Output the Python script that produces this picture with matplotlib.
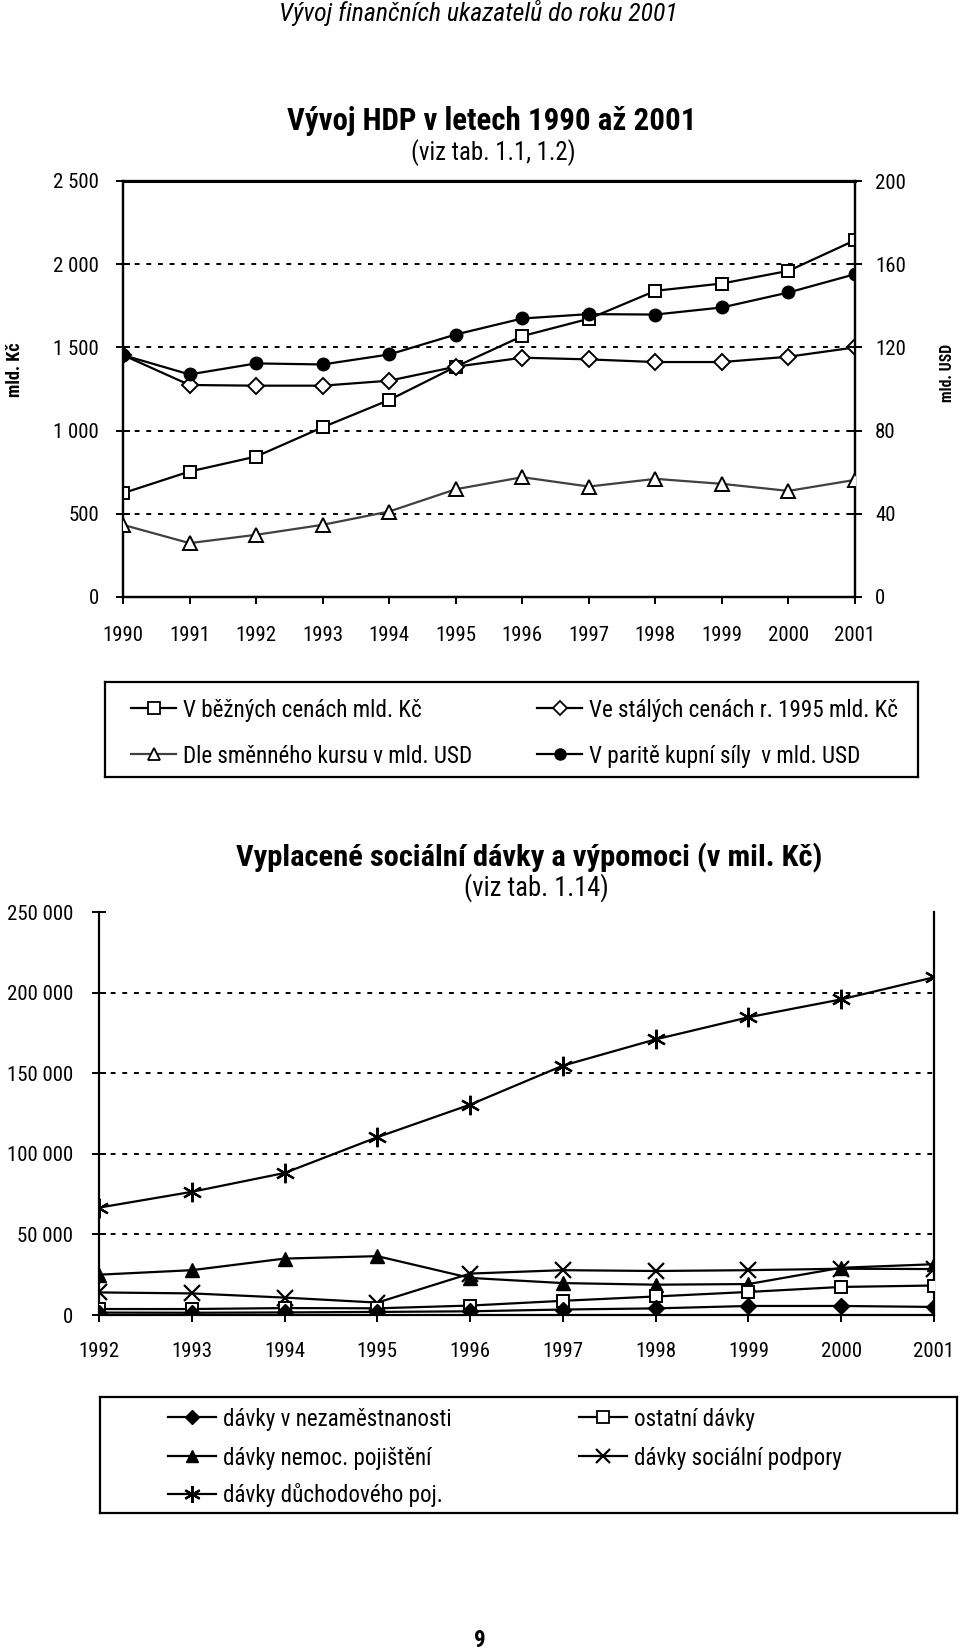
import matplotlib
matplotlib.use("Agg")
import matplotlib.pyplot as plt
from matplotlib.lines import Line2D
from matplotlib import font_manager as fm

# ---------------- data ----------------
years_hdp = [1990, 1991, 1992, 1993, 1994, 1995, 1996, 1997, 1998, 1999, 2000, 2001]
hdp_bezne_kc = [624, 754, 844, 1020, 1184, 1384, 1568, 1672, 1840, 1884, 1960, 2144]
hdp_stale_kc = [1454, 1274, 1270, 1270, 1300, 1384, 1438, 1428, 1412, 1412, 1444, 1500]
hdp_kurz_usd = [34.7, 25.9, 29.9, 34.7, 41.1, 51.8, 57.6, 53.1, 56.8, 54.4, 51.0, 56.3]
hdp_parita_usd = [116.3, 107.0, 112.3, 111.8, 116.6, 126.2, 133.9, 136.0, 135.8, 139.2, 146.4, 155.2]
kc_ticks = [0, 500, 1000, 1500, 2000, 2500]
kc_ticklabels = ['0', '500', '1 000', '1 500', '2 000', '2 500']
usd_ticks = [0, 40, 80, 120, 160, 200]

years_soc = [1992, 1993, 1994, 1995, 1996, 1997, 1998, 1999, 2000, 2001]
davky_nezam = [1500, 1400, 1600, 1900, 2300, 3400, 4100, 5600, 5600, 5000]
davky_nemoc = [25000, 27800, 35000, 36500, 23000, 19800, 18800, 19200, 29300, 31500]
davky_duchod = [66600, 76400, 88100, 110300, 130500, 154700, 171000, 184700, 195800, 209500]
davky_ostatni = [3700, 3700, 4300, 4150, 5850, 8800, 11500, 14300, 17400, 18300]
davky_socpod = [14000, 13400, 10800, 7700, 25700, 27800, 27300, 27800, 28700, 28500]
soc_ticks = [0, 50000, 100000, 150000, 200000, 250000]
soc_ticklabels = ['0', '50 000', '100 000', '150 000', '200 000', '250 000']

labels_hdp = ['V běžných cenách mld. Kč', 'Dle směnného kursu v mld. USD',
              'Ve stálých cenách r. 1995 mld. Kč', 'V paritě kupní síly  v mld. USD']
labels_soc = ['dávky v nezaměstnanosti', 'dávky nemoc. pojištění', 'dávky důchodového poj.',
              'ostatní dávky', 'dávky sociální podpory']

# ---------------- font ----------------
fonts = fm.fontManager.ttflist
prefs = ['Liberation Sans Narrow', 'Arial Narrow', 'Nimbus Sans Narrow', 'Roboto Condensed',
         'Archivo Narrow', 'PT Sans Narrow', 'IBM Plex Sans Condensed', 'Fira Sans Condensed',
         'Liberation Sans']


def has_bold_italic(name):
    fs_ = [f for f in fonts if f.name == name]
    bold = any((f.weight if isinstance(f.weight, int) else 400) >= 700 or f.weight == 'bold' for f in fs_)
    ital = any(f.style == 'italic' for f in fs_)
    return bool(fs_) and bold and ital


FONT = next((p for p in prefs if has_bold_italic(p)), 'Liberation Sans')
plt.rcParams['font.family'] = [FONT, 'DejaVu Sans']

W, H = 960, 1651
fig = plt.figure(figsize=(W / 100, H / 100), dpi=100)
renderer = fig.canvas.get_renderer()
PX2PT = 72 / 100


def fx(px):
    return px / W


def fy(py):
    return 1 - py / H


def size_for(s, target_w, **kw):
    t = fig.text(0, 0, s, fontsize=10, **kw)
    w = t.get_window_extent(renderer).width
    t.remove()
    return 10 * target_w / w


def fit_text(x, y, s, target_w, rot=False, scale=1.0, **kw):
    fs = size_for(s, target_w, **kw) * scale
    return fig.text(fx(x), fy(y), s, fontsize=fs, ha='center', va='center',
                    rotation=90 if rot else 0, **kw)


FS = size_for('1990', 41)           # tick label size
LFS = size_for(labels_hdp[0], 238)  # legend text size
grid_kw = dict(color='black', lw=1.4, ls=(0, (2.5, 3.5)))
line_kw = dict(color='black', lw=1.6)

# ---------------- header ----------------
fit_text(478, 13, 'Vývoj finančních ukazatelů do roku 2001', 397, style='italic')

# ---------------- top chart ----------------
ax1 = fig.add_axes([fx(123), fy(597), fx(855) - fx(123), fy(181) - fy(597)])
ax2 = ax1.twinx()
ax1.set_xlim(1990, 2001)
ax1.set_ylim(0, 2500)
ax2.set_ylim(0, 200)
for t in kc_ticks[1:-1]:
    ax1.axhline(t, **grid_kw, zorder=1)

ax1.plot(years_hdp, hdp_bezne_kc, marker='s', ms=9, mfc='white', mec='black', mew=1.4, **line_kw, zorder=4)
ax1.plot(years_hdp, hdp_stale_kc, marker='D', ms=8, mfc='white', mec='black', mew=1.4, **line_kw, zorder=4)
ax2.plot(years_hdp, hdp_kurz_usd, marker='^', ms=10, mfc='white', mec='black', mew=1.4,
         color='#404040', lw=1.6, zorder=4)
ax2.plot(years_hdp, hdp_parita_usd, marker='o', ms=9, mfc='black', mec='black', **line_kw, zorder=5)

ax1.set_yticks(kc_ticks)
ax1.set_yticklabels(kc_ticklabels)
ax2.set_yticks(usd_ticks)
ax1.set_xticks(years_hdp)
ax1.set_xticklabels([str(y) for y in years_hdp])
ax1.tick_params(axis='y', direction='inout', length=14 * PX2PT, width=1.4, pad=10, labelsize=FS)
ax2.tick_params(axis='y', direction='inout', length=14 * PX2PT, width=1.4, pad=10, labelsize=FS)
ax1.tick_params(axis='x', direction='out', length=7 * PX2PT, width=1.4, pad=12, labelsize=FS)
for ax in (ax1, ax2):
    for s in ax.spines.values():
        s.set_linewidth(1.6)
    ax.patch.set_visible(False)
ax1.spines['top'].set_linewidth(2.2)

fit_text(15, 370, 'mld. Kč', 55, rot=True, fontweight='bold')
fit_text(947, 373, 'mld. USD', 58, rot=True, fontweight='bold')

fit_text(491.5, 121, 'Vývoj HDP v letech 1990 až 2001', 408, fontweight='bold')
fit_text(493.5, 153, '(viz tab. 1.1, 1.2)', 185, scale=0.88)

# top legend box
lax = fig.add_axes([fx(105), fy(777), fx(918) - fx(105), fy(682) - fy(777)])
lax.set_xticks([]); lax.set_yticks([])
for s in lax.spines.values():
    s.set_linewidth(1.6)

HL_PX = 45
leg_kw = dict(frameon=False, fontsize=LFS, handlelength=HL_PX / (LFS / PX2PT), handletextpad=0.3,
              borderpad=0, borderaxespad=0, loc='center left', bbox_transform=fig.transFigure)
h_sq = Line2D([], [], marker='s', ms=8, mfc='white', mec='black', mew=1.3, **line_kw)
h_tr = Line2D([], [], marker='^', ms=8, mfc='white', mec='black', mew=1.3, color='#404040', lw=1.6)
h_di = Line2D([], [], marker='D', ms=7, mfc='white', mec='black', mew=1.3, **line_kw)
h_ci = Line2D([], [], marker='o', ms=8, mfc='black', mec='black', **line_kw)
for h, lab, x, y in [(h_sq, labels_hdp[0], 131, 710), (h_tr, labels_hdp[1], 131, 756),
                     (h_di, labels_hdp[2], 537, 710), (h_ci, labels_hdp[3], 537, 756)]:
    fig.legend([h], [lab], bbox_to_anchor=(fx(x), fy(y)), **leg_kw)

# ---------------- bottom chart ----------------
bx = fig.add_axes([fx(99), fy(1315), fx(934) - fx(99), fy(912) - fy(1315)])
bx.set_xlim(1992, 2001)
bx.set_ylim(0, 250000)
for t in soc_ticks[1:-1]:
    bx.axhline(t, **grid_kw, zorder=1)
bx.plot(years_soc, davky_duchod, marker=(6, 2, 0), ms=14, mew=1.6, mec='black', **line_kw, zorder=4)
bx.plot(years_soc, davky_nemoc, marker='^', ms=10, mfc='black', mec='black', **line_kw, zorder=4)
bx.plot(years_soc, davky_socpod, marker='x', ms=11, mew=1.6, mec='black', **line_kw, zorder=4)
bx.plot(years_soc, davky_ostatni, marker='s', ms=9, mfc='white', mec='black', mew=1.4, **line_kw, zorder=4)
bx.plot(years_soc, davky_nezam, marker='D', ms=8, mfc='black', mec='black', **line_kw, zorder=5)
bx.set_yticks(soc_ticks)
bx.set_yticklabels(soc_ticklabels)
bx.set_xticks(years_soc)
bx.set_xticklabels([str(y) for y in years_soc])
bx.tick_params(axis='y', direction='inout', length=14 * PX2PT, width=1.4, pad=10, labelsize=FS)
bx.tick_params(axis='x', direction='out', length=7 * PX2PT, width=1.4, pad=12, labelsize=FS)
bx.spines['top'].set_visible(False)
for s in ('left', 'right', 'bottom'):
    bx.spines[s].set_linewidth(1.6)
bx.patch.set_visible(False)

fit_text(529.5, 858, 'Vyplacené sociální dávky a výpomoci (v mil. Kč)', 611, fontweight='bold', scale=0.96)
fit_text(536, 888, '(viz tab. 1.14)', 163, scale=0.88)

# bottom legend box
mx = fig.add_axes([fx(100), fy(1513), fx(957) - fx(100), fy(1397) - fy(1513)])
mx.set_xticks([]); mx.set_yticks([])
for s in mx.spines.values():
    s.set_linewidth(1.6)
LFS2 = size_for(labels_soc[0], 226)
leg_kw2 = dict(leg_kw, fontsize=LFS2, handlelength=48 / (LFS2 / PX2PT))
g_di = Line2D([], [], marker='D', ms=7, mfc='black', mec='black', **line_kw)
g_tr = Line2D([], [], marker='^', ms=9, mfc='black', mec='black', **line_kw)
g_as = Line2D([], [], marker=(6, 2, 0), ms=12, mew=1.6, mec='black', **line_kw)
g_sq = Line2D([], [], marker='s', ms=8, mfc='white', mec='black', mew=1.3, **line_kw)
g_x = Line2D([], [], marker='x', ms=10, mew=1.6, mec='black', **line_kw)
for h, lab, x, y in [(g_di, labels_soc[0], 168, 1419), (g_tr, labels_soc[1], 168, 1458),
                     (g_as, labels_soc[2], 168, 1495), (g_sq, labels_soc[3], 579, 1419),
                     (g_x, labels_soc[4], 579, 1458)]:
    fig.legend([h], [lab], bbox_to_anchor=(fx(x), fy(y)), **leg_kw2)

# page number
fig.text(fx(480), fy(1640), '9', ha='center', va='center', fontsize=FS * 1.1, fontweight='bold')


# ---------------- fine-tune tick label pads ----------------
def tune_pad(axis_obj, ax, which, target, side):
    fig.canvas.draw()
    labs = ax.get_xticklabels() if which == 'x' else (ax.get_yticklabels())
    lab = [l for l in labs if l.get_text()][-1 if which == 'y' else 0]
    bb = lab.get_window_extent(renderer)
    pad = axis_obj.get_major_ticks()[0].get_pad()
    if which == 'x':
        cur = H - (bb.y0 + bb.y1) / 2
        delta = target - cur
    else:
        if side == 'left':
            cur = bb.x1
            delta = cur - target
        else:
            cur = bb.x0
            delta = target - cur
    ax.tick_params(axis=which, pad=pad + delta * PX2PT)


tune_pad(ax1.xaxis, ax1, 'x', 635, None)
tune_pad(ax1.yaxis, ax1, 'y', 99, 'left')
tune_pad(ax2.yaxis, ax2, 'y', 875, 'right')
tune_pad(bx.xaxis, bx, 'x', 1351, None)
tune_pad(bx.yaxis, bx, 'y', 73, 'left')

fig.savefig('out.png', dpi=100)
